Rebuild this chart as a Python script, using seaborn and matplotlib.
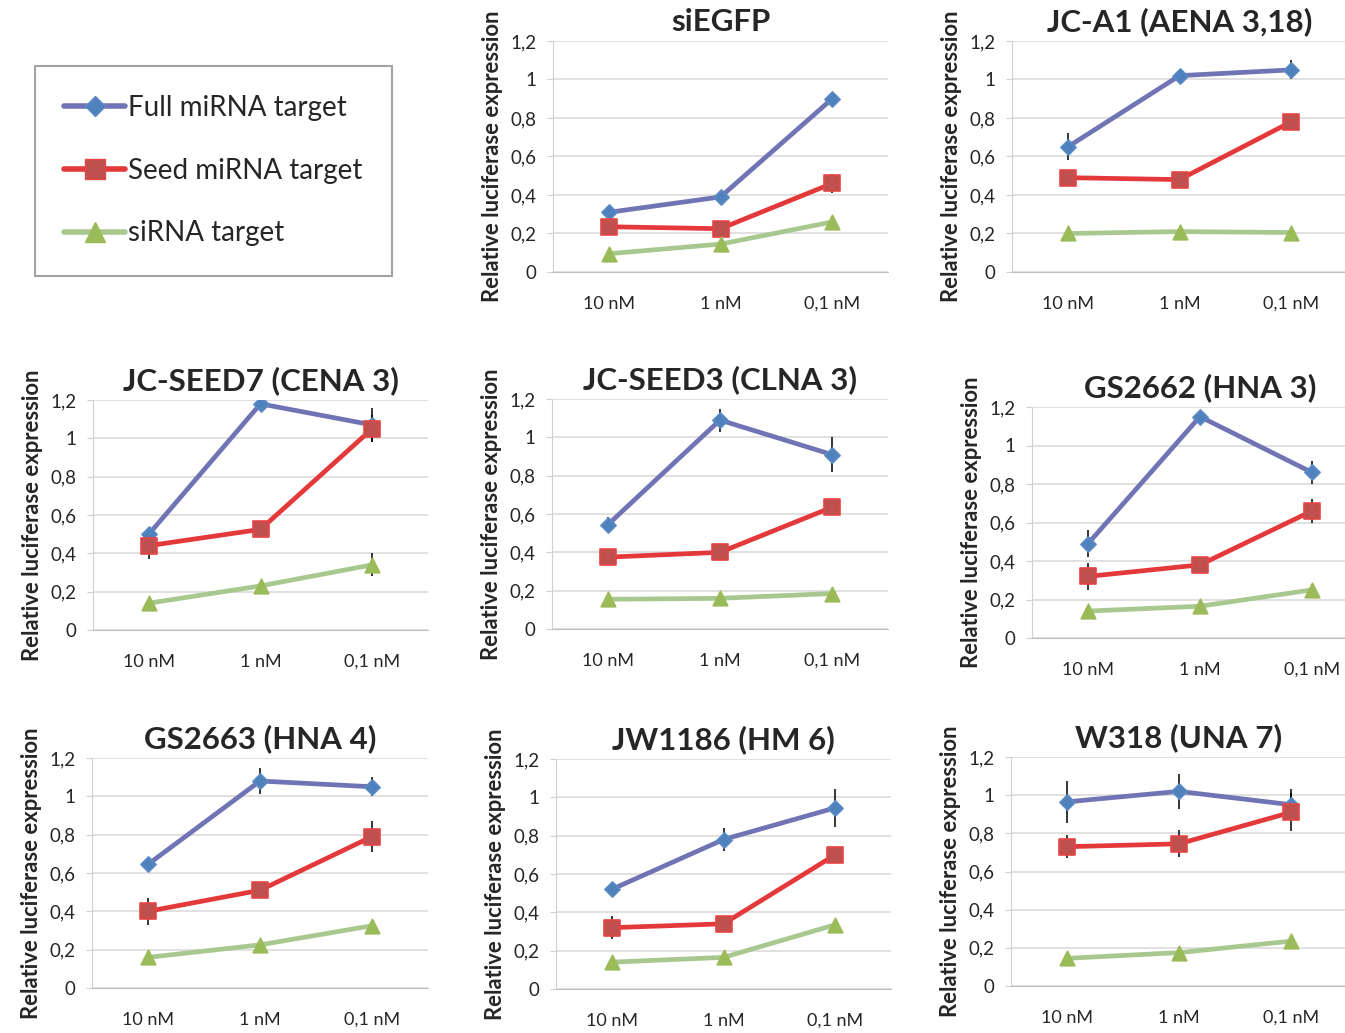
import numpy as np
import matplotlib
matplotlib.use("Agg")
import matplotlib.pyplot as plt
from matplotlib.lines import Line2D
from matplotlib.ticker import FuncFormatter
import seaborn as sns

# concentrations (x categories)
concs = ["10 nM", "1 nM", "0,1 nM"]
series_names = ["Full miRNA target", "Seed miRNA target", "siRNA target"]

panel_titles = ["siEGFP", "JC-A1 (AENA 3,18)", "JC-SEED7 (CENA 3)", "JC-SEED3 (CLNA 3)",
                "GS2662 (HNA 3)", "GS2663 (HNA 4)", "JW1186 (HM 6)", "W318 (UNA 7)"]

# values: [full, seed, siRNA] per panel
full_vals = [[0.31, 0.39, 0.90], [0.65, 1.02, 1.05], [0.50, 1.18, 1.07], [0.545, 1.09, 0.91],
             [0.49, 1.15, 0.86], [0.645, 1.08, 1.05], [0.52, 0.78, 0.945], [0.965, 1.02, 0.95]]
full_err = [[0.01, 0.01, 0.01], [0.07, 0.01, 0.05], [0.03, 0.03, 0.09], [0.04, 0.06, 0.09],
            [0.07, 0.01, 0.06], [0.01, 0.07, 0.05], [0.01, 0.06, 0.10], [0.11, 0.09, 0.08]]
seed_vals = [[0.235, 0.225, 0.46], [0.49, 0.48, 0.78], [0.44, 0.525, 1.05], [0.375, 0.40, 0.635],
             [0.32, 0.38, 0.66], [0.40, 0.51, 0.79], [0.32, 0.34, 0.70], [0.73, 0.745, 0.91]]
seed_err = [[0.01, 0.01, 0.05], [0.01, 0.01, 0.04], [0.07, 0.01, 0.07], [0.01, 0.01, 0.01],
            [0.07, 0.01, 0.06], [0.07, 0.01, 0.08], [0.06, 0.01, 0.01], [0.06, 0.07, 0.10]]
sirna_vals = [[0.095, 0.145, 0.26], [0.20, 0.21, 0.205], [0.14, 0.23, 0.34], [0.155, 0.16, 0.185],
              [0.14, 0.165, 0.25], [0.16, 0.225, 0.325], [0.14, 0.165, 0.335], [0.145, 0.175, 0.235]]
sirna_err = [[0.01, 0.01, 0.01], [0.01, 0.01, 0.01], [0.01, 0.01, 0.06], [0.01, 0.01, 0.01],
             [0.01, 0.01, 0.01], [0.01, 0.01, 0.01], [0.01, 0.01, 0.01], [0.01, 0.01, 0.01]]

line_colors = ["#7174B4", "#E4393B", "#A8C890"]
face_colors = ["#4F81BD", "#C0504D", "#9BBB59"]
edge_colors = ["#5B8AC4", "#E84545", "#9BBB59"]
markers = ["D", "s", "^"]
msizes = [60, 120, 110]

sns.set_style("white")
plt.rcParams["font.family"] = ["Lato", "DejaVu Sans"]

W, H = 1345, 1033
fig = plt.figure(figsize=(W / 100, H / 100), dpi=100)

# axes boxes in pixels: left, top, right, bottom
boxes = [(553, 41, 888, 272), (1012, 41, 1347, 272),
         (93, 400, 428, 630), (552, 399, 888, 629), (1032, 407, 1368, 638),
         (92, 758, 428, 988), (556, 759, 891, 989), (1011, 757, 1347, 986)]

x = np.arange(len(concs))
comma = FuncFormatter(lambda v, p: f"{v:g}".replace(".", ","))

for i, (l, t, r, b) in enumerate(boxes):
    ax = fig.add_axes([l / W, 1 - b / H, (r - l) / W, (b - t) / H])
    vals = [full_vals[i], seed_vals[i], sirna_vals[i]]
    errs = [full_err[i], seed_err[i], sirna_err[i]]
    for k in range(3):
        sns.lineplot(x=x, y=vals[k], ax=ax, color=line_colors[k], linewidth=3.4, zorder=2)
        ax.errorbar(x, vals[k], yerr=errs[k], fmt="none", ecolor="black", elinewidth=1.1,
                    capsize=0, zorder=2.5)
        sns.scatterplot(x=x, y=vals[k], ax=ax, marker=markers[k], s=msizes[k],
                        color=face_colors[k], edgecolor=edge_colors[k], linewidth=1.2, zorder=3)
    ax.set_xlim(-0.5, 2.5)
    ax.set_ylim(0, 1.2)
    ax.set_yticks(np.arange(0, 1.21, 0.2))
    ax.yaxis.set_major_formatter(comma)
    ax.set_xticks(x)
    ax.set_xticklabels(concs)
    ax.set_xticks([-0.5, 0.5, 1.5, 2.5], minor=True)
    ax.tick_params(axis="x", which="major", length=0, pad=17, labelsize=13)
    ax.tick_params(axis="x", which="minor", length=4, color="#BFBFBF", direction="out")
    ax.tick_params(axis="y", length=4, color="#D0D0D0", pad=8, labelsize=13.5, left=True)
    ax.grid(axis="y", color="#D9D9D9", linewidth=1.1)
    ax.set_axisbelow(True)
    for s in ["top", "right"]:
        ax.spines[s].set_visible(False)
    ax.spines["left"].set_color("#D0D0D0")
    ax.spines["bottom"].set_color("#BFBFBF")
    ax.set_ylabel("Relative luciferase expression", fontsize=15.8, fontweight="bold", labelpad=5)
    ax.set_xlabel("")
    ax.set_title(panel_titles[i], fontsize=22.5, fontweight="bold", pad=7)

handles = [Line2D([], [], color=line_colors[k], lw=4, marker=markers[k],
                  markersize=[10, 15, 15][k], markerfacecolor=face_colors[k],
                  markeredgecolor=edge_colors[k]) for k in range(3)]
leg = fig.legend(handles, series_names, loc="upper left",
                 bbox_to_anchor=(35 / W, 1 - 66 / H), borderaxespad=0,
                 fontsize=20, handlelength=2.2, handletextpad=0.1, labelspacing=1.32,
                 borderpad=1.05, fancybox=False, frameon=True)
leg.get_frame().set_edgecolor("#8C8C8C")
leg.get_frame().set_linewidth(1.5)

fig.savefig("out.png", dpi=100)
